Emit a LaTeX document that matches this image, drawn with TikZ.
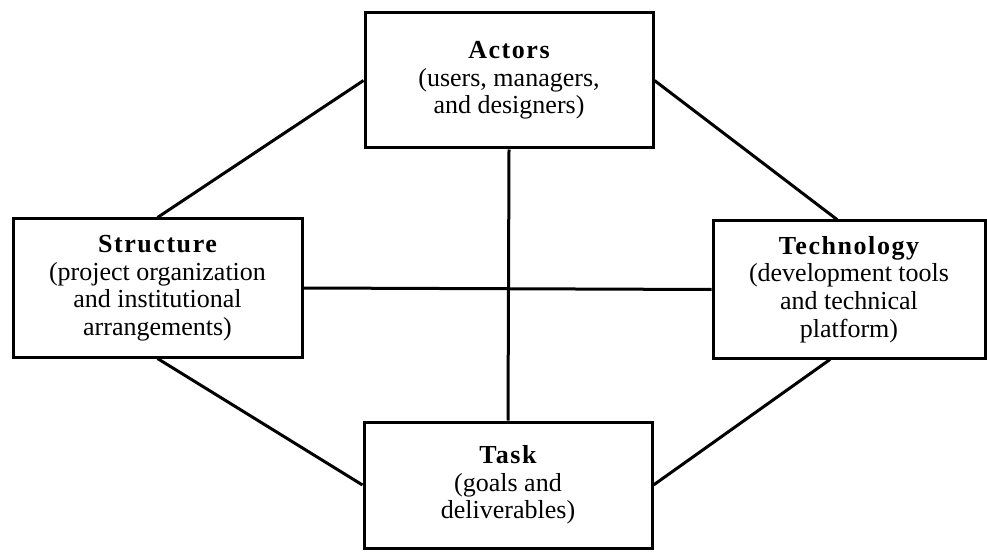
\documentclass[tikz,border=0pt]{standalone}
\usepackage{fontspec}
\setmainfont{Liberation Serif}
\newcommand{\headword}[1]{{\bfseries\addfontfeature{LetterSpace=6}#1}}
\begin{document}
\begin{tikzpicture}[x=1pt,y=-1pt,
  box/.style={draw, line width=3pt, minimum width=#1, inner sep=0pt,
    align=center, font=\fontsize{26}{27.6}\selectfont},
  box/.default=288pt,
  link/.style={line width=3pt}]
\useasboundingbox (0,0) rectangle (987,553);
\node[box=288pt, minimum height=135pt] (act) at (509,80.5)
  {\headword{Actors}\\(users, managers,\\and designers)};
\node[box=289pt, minimum height=138pt] (str) at (157.5,288)
  {\headword{Structure}\\(project organization\\and institutional\\arrangements)};
\node[box=272pt, minimum height=137pt] (tec) at (849,289.5)
  {\headword{Technology}\\(development tools\\and technical\\platform)};
\node[box=288pt, minimum height=126pt] (tsk) at (508,485)
  {\headword{Task}\\(goals and\\deliverables)};
\draw[link] (act.west) -- (str.north);
\draw[link] (act.east) -- ([xshift=-12pt]tec.north);
\draw[link] (str.south) -- (tsk.west);
\draw[link] ([xshift=-19pt]tec.south) -- (tsk.east);
\draw[link] (act.south) -- (tsk.north);
\draw[link] (str.east) -- (tec.west);
\end{tikzpicture}
\end{document}
